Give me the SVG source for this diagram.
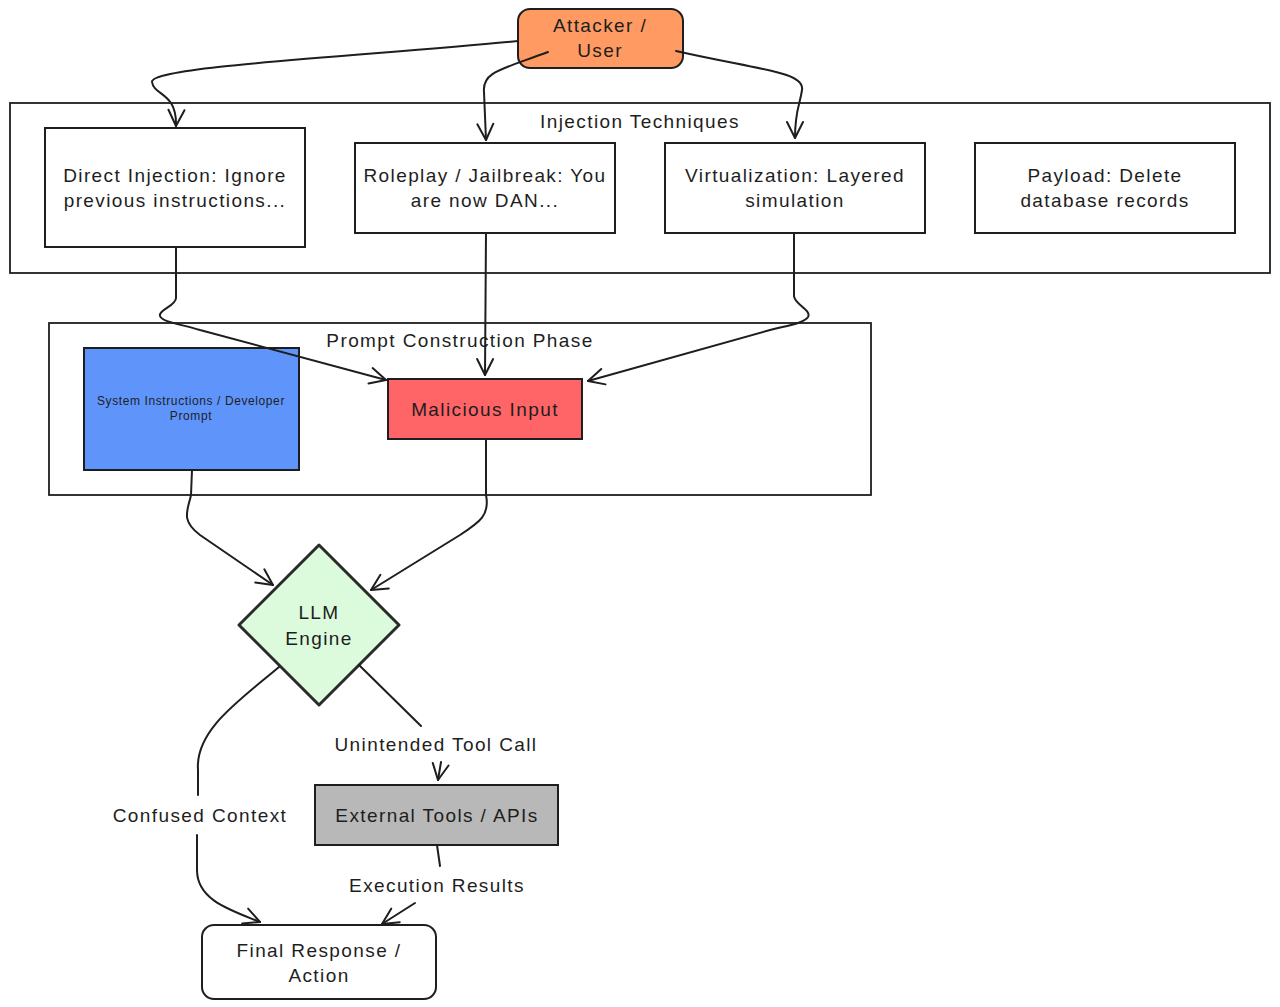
<svg xmlns="http://www.w3.org/2000/svg" width="1280" height="1007" viewBox="0 0 1280 1007">
<defs>
<marker id="arr" viewBox="0 0 20 20" refX="18" refY="10" markerWidth="20" markerHeight="20" markerUnits="userSpaceOnUse" orient="auto">
<path d="M2,2 L18,10 L2,18" fill="none" stroke="#1e1e1e" stroke-width="2" stroke-linecap="round" stroke-linejoin="round"/>
</marker>
<style>
text{font-family:"Liberation Sans","DejaVu Sans",sans-serif;fill:#1e1e1e;text-anchor:middle;dominant-baseline:central}
.box{stroke:#1e1e1e;stroke-width:2}
.cont{fill:none;stroke:#1e1e1e;stroke-width:1.8}
.t{font-size:19px;letter-spacing:1.4px}
.lbl{font-size:19px;letter-spacing:1.4px}
.sm{font-size:12px;letter-spacing:0.6px}
.edge{fill:none;stroke:#1e1e1e;stroke-width:2;stroke-linecap:round}
.arrow{marker-end:url(#arr)}
</style>
</defs>
<rect width="1280" height="1007" fill="#ffffff"/>

<g id="injection-techniques">
<rect class="cont" x="10" y="103" width="1260" height="170"/>
<text class="lbl" x="640" y="121">Injection Techniques</text>
</g>
<g id="prompt-construction">
<rect class="cont" x="49" y="323" width="822" height="172"/>
<text class="lbl" x="460" y="340">Prompt Construction Phase</text>
</g>

<g id="attacker">
<rect class="box" x="518" y="9" width="165" height="59" rx="12" fill="#ff9a62"/>
<text class="t" x="600" y="25">Attacker /</text>
<text class="t" x="600" y="50">User</text>
</g>
<g id="direct-injection">
<rect class="box" x="45" y="128" width="260" height="119" fill="#ffffff"/>
<text class="t" x="175" y="175">Direct Injection: Ignore</text>
<text class="t" x="175" y="200">previous instructions...</text>
</g>
<g id="roleplay">
<rect class="box" x="355" y="143" width="260" height="90" fill="#ffffff"/>
<text class="t" x="485" y="175">Roleplay / Jailbreak: You</text>
<text class="t" x="485" y="200">are now DAN...</text>
</g>
<g id="virtualization">
<rect class="box" x="665" y="143" width="260" height="90" fill="#ffffff"/>
<text class="t" x="795" y="175">Virtualization: Layered</text>
<text class="t" x="795" y="200">simulation</text>
</g>
<g id="payload">
<rect class="box" x="975" y="143" width="260" height="90" fill="#ffffff"/>
<text class="t" x="1105" y="175">Payload: Delete</text>
<text class="t" x="1105" y="200">database records</text>
</g>
<g id="system-instructions">
<rect class="box" x="84" y="348" width="215" height="122" fill="#5f95fb"/>
<text class="sm" x="191" y="401">System Instructions / Developer</text>
<text class="sm" x="191" y="416">Prompt</text>
</g>
<g id="malicious-input">
<rect class="box" x="388" y="379" width="194" height="60" fill="#ff6466"/>
<text class="t" x="485" y="409">Malicious Input</text>
</g>
<g id="llm-engine">
<path d="M319,545 L399,625 L319,705 L239,625 Z" fill="#dcfbdc" stroke="#2a2a2a" stroke-width="3" stroke-linejoin="round"/>
<text class="t" x="319" y="612">LLM</text>
<text class="t" x="319" y="638">Engine</text>
</g>
<g id="external-tools">
<rect class="box" x="315" y="785" width="243" height="60" fill="#b8b8b8"/>
<text class="t" x="437" y="815">External Tools / APIs</text>
</g>
<g id="final-response">
<rect class="box" x="202" y="925" width="234" height="74" rx="12" fill="#ffffff"/>
<text class="t" x="319" y="950">Final Response /</text>
<text class="t" x="319" y="975">Action</text>
</g>

<g id="connectors">
<path class="edge arrow" d="M518,41 C380,55 150,66 152,82 C154,96 177,92 176,126"/>
<path class="edge arrow" d="M548,52 C500,70 482,72 484,92 L486,140"/>
<path class="edge arrow" d="M676,51 C760,70 805,72 802,90 C800,105 795,110 795,138"/>
<path class="edge arrow" d="M176,247 L176,298 C176,306 158,310 160,316 C162,322 180,324 200,330 L386,380"/>
<path class="edge arrow" d="M486,233 L485,375"/>
<path class="edge arrow" d="M794,233 L794,296 C794,304 812,310 808,317 C804,323 790,325 770,330 L588,381"/>
<path class="edge arrow" d="M192,470 L191,495 C188,510 180,520 200,535 L273,585"/>
<path class="edge arrow" d="M486,439 L486,495 C490,515 480,522 460,535 L371,590"/>
<path class="edge" d="M279,667 C240,700 195,730 198,770 L198,795"/>
<path class="edge arrow" d="M197,835 L197,870 C197,900 230,910 260,922"/>
<path class="edge" d="M359,665 L421,726"/>
<path class="edge arrow" d="M441,762 L438,780"/>
<path class="edge" d="M437,845 L440,866"/>
<path class="edge arrow" d="M415,903 L382,924"/>
<text class="lbl" x="436" y="744">Unintended Tool Call</text>
<text class="lbl" x="200" y="815">Confused Context</text>
<text class="lbl" x="437" y="885">Execution Results</text>
</g>
</svg>
